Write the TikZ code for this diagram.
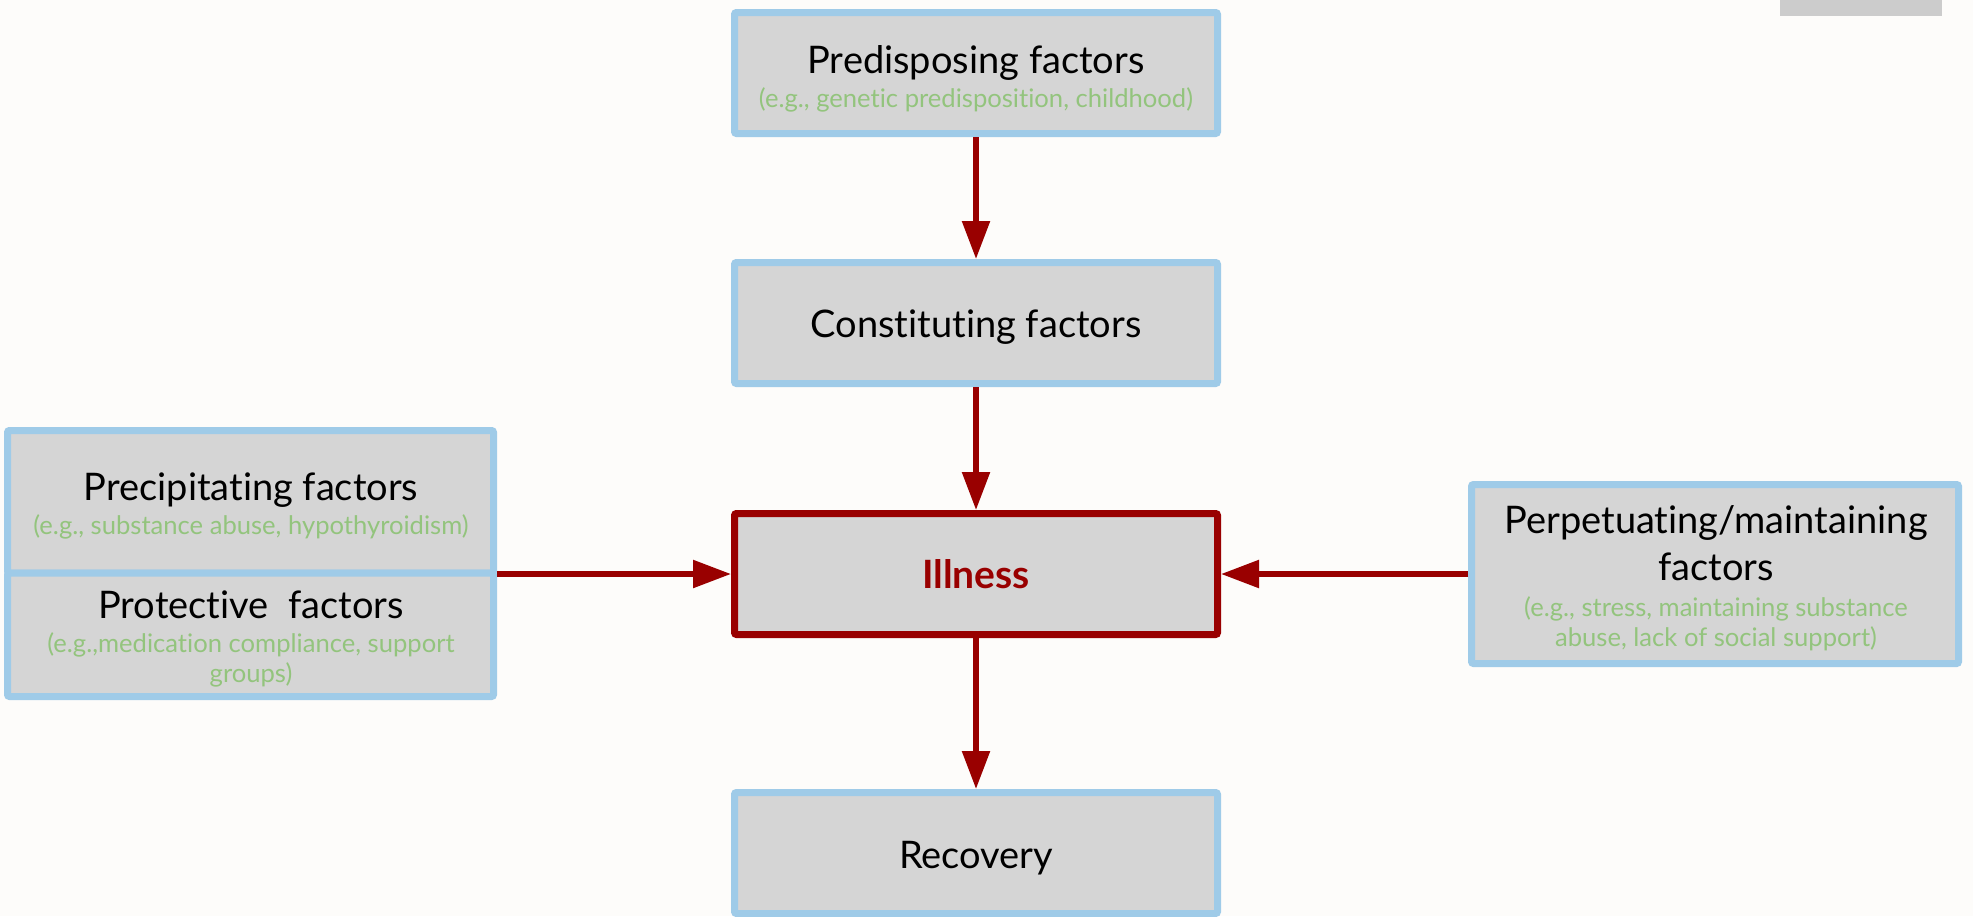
\documentclass[tikz,border=0pt]{standalone}
\usepackage{fontspec}
\setmainfont{Lato}[Ligatures={NoCommon}]
\usetikzlibrary{arrows.meta,calc}

\definecolor{bgpaper}{HTML}{FDFCFA}
\definecolor{boxblue}{HTML}{9FCBE8}
\definecolor{boxfill}{HTML}{D5D5D5}
\definecolor{darkred}{HTML}{990000}
\definecolor{notegreen}{HTML}{93C47D}
\definecolor{tabgray}{HTML}{CCCCCC}

\tikzset{
  box/.style={draw=boxblue, fill=boxfill, line width=3.5pt, rounded corners=1pt,
    inner sep=0pt, minimum width=241.5pt, minimum height=60.5pt},
  keybox/.style={box, draw=darkred},
  title/.style={anchor=base, inner sep=0pt, text=black,
    font=\fontsize{19pt}{23pt}\selectfont},
  keytitle/.style={title, text=darkred, font=\fontsize{19.5pt}{23.5pt}\selectfont\bfseries},
  note/.style={anchor=base, inner sep=0pt, text=notegreen,
    font=\fontsize{12.8pt}{15pt}\selectfont},
  flow/.style={draw=darkred, line width=2.75pt,
    -{Triangle[length=19pt, width=13.5pt]}}
}

\begin{document}
\begin{tikzpicture}[x=0.5pt, y=-0.5pt]
  % page and the small tab in the corner
  \fill[bgpaper] (0,0) rectangle (1973,916);
  \useasboundingbox (0,0) rectangle (1973,916);
  \fill[tabgray] (1780,0) rectangle (1942,16);

  % central column
  \node[box] (pre) at (976,73) {};
  \node[title] (pre-t) at (976,73) {Predisposing factors};
  \node[note] (pre-n) at (976,107) {(e.g., genetic predisposition, childhood)};

  \node[box] (con) at (976,323) {};
  \node[title] (con-t) at (976,337) {Constituting factors};

  \node[keybox] (ill) at (976,574) {};
  \node[keytitle] (ill-t) at (976,588) {Illness};

  \node[box] (rec) at (976,853) {};
  \node[title] (rec-t) at (976,868) {Recovery};

  % left stack: precipitating over protective
  \node[box, minimum width=243pt, minimum height=71.25pt] (prec) at (250.5,501.75) {};
  \node[box, minimum width=243pt, minimum height=61.75pt] (prot) at (250.5,634.75) {};
  \node[title] (prec-t) at (251,500) {Precipitating factors};
  \node[note] (prec-n) at (251,534) {(e.g., substance abuse, hypothyroidism)};
  \node[title] (prot-t) at (251,618) {Protective\ \ factors};
  \node[note] (prot-n1) at (251,652) {(e.g.,medication compliance, support};
  \node[note] (prot-n2) at (251,682) {groups)};

  % right box
  \node[box, minimum width=243.5pt, minimum height=89.5pt] (perp) at (1715,574) {};
  \node[title] (perp-t1) at (1716,533) {Perpetuating/maintaining};
  \node[title] (perp-t2) at (1716,580) {factors};
  \node[note] (perp-n1) at (1716,616) {(e.g., stress, maintaining substance};
  \node[note] (perp-n2) at (1716,646) {abuse, lack of social support)};

  % connectors
  \draw[flow] (pre) -- (con);
  \draw[flow] (con) -- (ill);
  \draw[flow] (prec.south east |- ill.west) -- (ill.west);
  \draw[flow] (perp.west) -- (ill.east);
  \draw[flow] (ill) -- (rec);
\end{tikzpicture}
\end{document}
